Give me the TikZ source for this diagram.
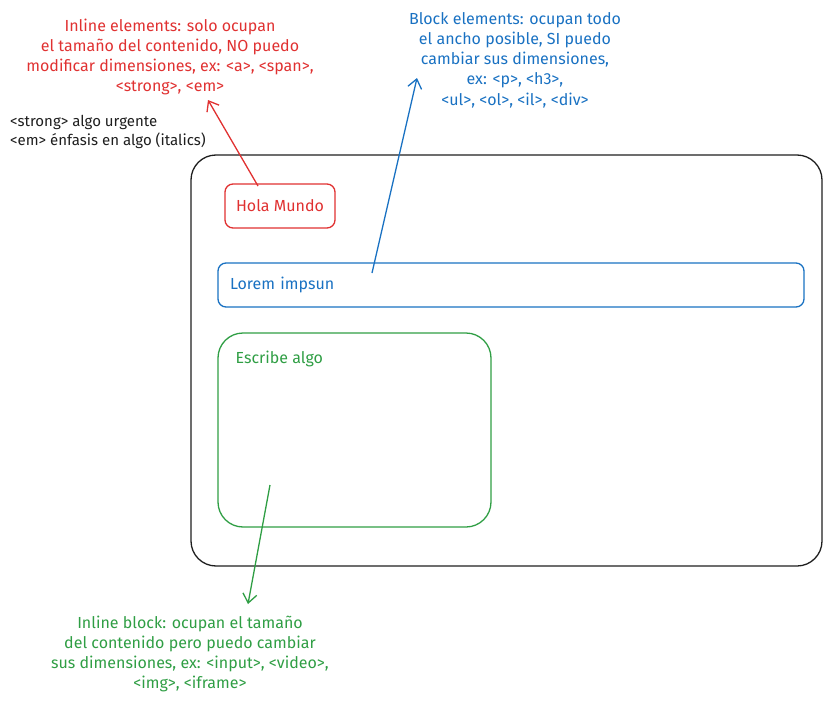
\documentclass[tikz,border=0pt]{standalone}
\usepackage{fontspec}
\setmainfont{Fira Sans}
\usetikzlibrary{positioning, arrows.meta}
\definecolor{rojo}{HTML}{E03131}
\definecolor{azul}{HTML}{1971C2}
\definecolor{verde}{HTML}{2F9E44}
\definecolor{tinta}{HTML}{1E1E1E}

\begin{document}
\begin{tikzpicture}[
    x=1pt, y=-1pt,
    >={Straight Barb[length=9pt, width=14pt]},
    every node/.style={font=\fontsize{16}{20.3}\selectfont},
    caja/.style={draw=#1, line width=1.3pt, rounded corners=8pt, inner sep=0pt},
    nota/.style={align=center, text=#1},
    flecha/.style={->, line width=1.3pt, draw=#1}
]
\useasboundingbox (0,0) rectangle (831,704);

% 页面与元素
\node[caja=tinta, rounded corners=25pt, minimum width=631, minimum height=411] (pagina) at (506.5,360.5) {};
\node[caja=rojo, text=rojo, minimum width=110, minimum height=44] (hola) at (280,206) {Hola Mundo};
\node[caja=azul, text=azul, minimum width=586, minimum height=44, text width=562, align=left] (lorem) at (511,285) {Lorem impsun};
\node[caja=verde, rounded corners=25pt, minimum width=273, minimum height=194] (entrada) at (354.5,430) {};
\node[text=verde, anchor=north west, inner sep=0pt] (escribe) at ([shift={(18,18)}]entrada.north west) {Escribe algo};

% 说明文字
\node[nota=rojo] (inline) at (170,57) {Inline elements: solo ocupan\\el tamaño del contenido, NO puedo\\modificar dimensiones, ex: <a>, <span>,\\<strong>, <em>};
\node[text=tinta, align=left, anchor=north west, inner sep=0pt, font=\fontsize{15}{19}\selectfont] (etiquetas) at (10,115) {<strong> algo urgente\\<em> énfasis en algo (italics)};
\node[nota=azul] (bloque) at (515,60) {Block elements: ocupan todo\\el ancho posible, SI puedo\\cambiar sus dimensiones,\\ex: <p>, <h3>,\\<ul>, <ol>, <il>, <div>};
\node[nota=verde] (inlineblock) at (190,654) {Inline block: ocupan el tamaño\\del contenido pero puedo cambiar\\sus dimensiones, ex: <input>, <video>,\\<img>, <iframe>};

% 箭头
\coordinate (r-ini) at (258,186);
\coordinate (r-fin) at (208,100);
\coordinate (a-ini) at (372,273);
\coordinate (a-fin) at (417,78);
\coordinate (v-ini) at (270,485);
\coordinate (v-fin) at (248,604);
\draw[flecha=rojo] (r-ini) -- (r-fin);
\draw[flecha=azul] (a-ini) -- (a-fin);
\draw[flecha=verde] (v-ini) -- (v-fin);

\end{tikzpicture}
\end{document}
